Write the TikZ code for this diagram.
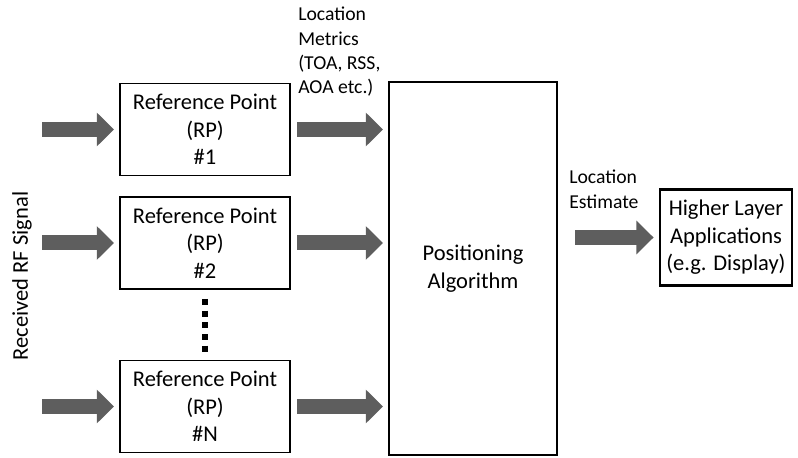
\documentclass[tikz,border=0pt]{standalone}
\usepackage{fontspec}
\setmainfont{Carlito}
\usepackage{xcolor}
\definecolor{arrowgray}{HTML}{5E5E5E}
\usepackage{tikz}
\usetikzlibrary{arrows.meta, positioning, calc}
\tikzset{
  rpbox/.style={
    rectangle, draw=black, line width=1.4pt, fill=white,
    align=center, font=\fontsize{16}{19.5}\selectfont,
    minimum width=4.25cm, minimum height=2.3cm, inner sep=0pt
  },
  blk/.style={
    draw=arrowgray, line width=0.375cm,
    -{Triangle[length=0.43cm, width=0.82cm]}
  },
  lbl/.style={align=left, font=\fontsize{14}{17.2}\selectfont, inner sep=0pt}
}

\begin{document}
\begin{tikzpicture}[x=0.025cm, y=-0.025cm]
  \useasboundingbox (0,0) rectangle (798,458);

  %% Reference points
  \node[rpbox] (rp1) at (205,129.5) {Reference Point\\(RP)\\\#1};
  \node[rpbox] (rp2) at (205,243)   {Reference Point\\(RP)\\\#2};
  \node[rpbox] (rpn) at (205,406.5) {Reference Point\\(RP)\\\#N};

  %% Positioning algorithm and application
  \node[rpbox, minimum width=4.2cm, minimum height=9.33cm] (pa) at (473,268.5)
    {Positioning\\Algorithm};
  \node[rpbox, line width=2pt, minimum width=3.3cm, minimum height=2.38cm] (hla)
    at (726,237.5) {Higher Layer\\Applications\\(e.g. Display)};

  %% Input signal
  \node[font=\fontsize{16}{19.5}\selectfont, rotate=90] (rx) at (22,276)
    {Received RF Signal};
  \coordinate (in1) at (42,129.5);
  \coordinate (in2) at (42,243);
  \coordinate (inn) at (42,406.5);

  \draw[blk, shorten >=0.125cm] (in1) -- (rp1.west);
  \draw[blk, shorten >=0.125cm] (in2) -- (rp2.west);
  \draw[blk, shorten >=0.125cm] (inn) -- (rpn.west);

  \draw[blk, shorten <=0.15cm, shorten >=0.125cm] (rp1.east) -- (rp1.east -| pa.west);
  \draw[blk, shorten <=0.15cm, shorten >=0.125cm] (rp2.east) -- (rp2.east -| pa.west);
  \draw[blk, shorten <=0.15cm, shorten >=0.125cm] (rpn.east) -- (rpn.east -| pa.west);

  \draw[blk, shorten <=0.43cm, shorten >=0.125cm] (pa.east |- hla.west) -- (hla.west);

  %% Dots between RP #2 and RP #N
  \draw[line width=4.3pt, dash pattern=on 4.3pt off 4pt]
    ($(rp2.south)+(0,9)$) -- ($(rpn.north)+(0,-6)$);

  %% Labels
  \node[lbl, anchor=north west] (lm) at (298,7)
    {Location\\Metrics\\(TOA, RSS,\\AOA etc.)};
  \node[lbl, anchor=north west] (le) at (569,170)
    {Location\\Estimate};
\end{tikzpicture}
\end{document}
